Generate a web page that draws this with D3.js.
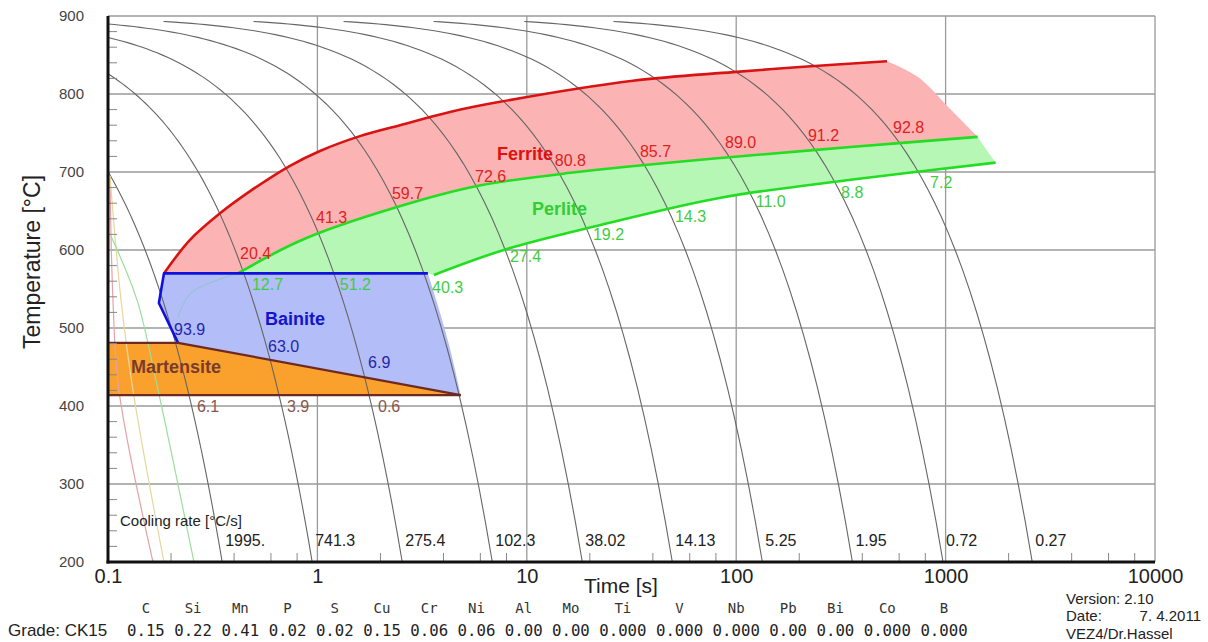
<!DOCTYPE html>
<html>
<head>
<meta charset="utf-8">
<title>CCT diagram CK15</title>
<script src="https://d3js.org/d3.v7.min.js"></script>
<style>
  body { margin: 0; background: #fff; }
  svg text { font-family: "Liberation Sans", Arial, sans-serif; }
  svg text.mono { font-family: "DejaVu Sans Mono", monospace; }
</style>
</head>
<body>
<div id="chart"></div>
<script>
// cooling rates [°C/s] of the gray cooling curves (fastest first)
var rates = [1995, 741.3, 275.4, 102.3, 38.02, 14.13, 5.25, 1.95, 0.72, 0.27];
var rateLabels = ["1995.", "741.3", "275.4", "102.3", "38.02", "14.13", "5.25", "1.95", "0.72", "0.27"];

// very fast coloured cooling curves near the left axis, [time s, temp °C]
var pinkCurve = [[0.1022, 695], [0.1056, 536], [0.1128, 420], [0.164, 200]];
var yellowCurve = [[0.1022, 695], [0.1154, 536], [0.1316, 420], [0.185, 200]];
var greenCurve = [[0.1033, 618], [0.1375, 536], [0.1694, 433], [0.2573, 200]];

// transformation boundaries, [time s, temp °C]
var ferriteStart = [[0.185, 570], [0.2464, 613], [0.3426, 647], [0.4928, 678], [0.74, 708], [1.029, 727],
                    [1.597, 746], [2.48, 760], [4.297, 777], [7.447, 790], [32.16, 817], [96.5, 828],
                    [201.7, 834.6], [525, 842]];
var ferriteEdge = [[525, 842], [735, 822], [1057, 780], [1422, 745]];
var pearliteStart = [[0.417, 570], [0.881, 615], [3.12, 664], [6.03, 683], [16.2, 699], [84.3, 718],
                     [352, 732], [1422, 745]];
var pearliteEnd = [[3.6, 568], [7.76, 600], [22.5, 632], [84.3, 667], [352, 690], [1733, 712]];
var pearliteFaint = [[0.216, 514], [0.249, 545], [0.417, 570]];
var bainiteOutline = [[0.216, 481], [0.175, 532], [0.185, 570], [3.37, 570]];
var bainiteRight = [[3.37, 570], [3.85, 520], [4.33, 470], [4.84, 414]];
var martensiteTop = [[0.1, 481], [0.216, 481], [4.84, 414]];
var martensiteBottom = [[0.1, 414], [4.84, 414]];

// percentages of the phases, [time s, temp °C, text]
var ferriteLabels = [[0.427, 588, "20.4"], [0.985, 635, "41.3"], [2.27, 665, "59.7"], [5.66, 687, "72.6"],
                     [13.6, 708, "80.8"], [34.7, 719, "85.7"], [88.4, 731, "89.0"], [220, 740, "91.2"],
                     [561, 750, "92.8"]];
var pearliteLabels = [[0.487, 549, "12.7"], [1.28, 549, "51.2"], [3.53, 545, "40.3"], [8.32, 585, "27.4"],
                      [20.7, 613, "19.2"], [51.0, 636, "14.3"], [124, 655, "11.0"], [317, 667, "8.8"],
                      [843, 680, "7.2"]];
var bainiteLabels = [[0.2066, 491, "93.9"], [0.581, 469, "63.0"], [1.745, 449, "6.9"]];
var martensiteLabels = [[0.266, 392, "6.1"], [0.716, 392, "3.9"], [1.947, 392, "0.6"]];
var phaseNames = [[7.21, 715, "Ferrite"], [10.6, 645, "Perlite"], [0.562, 504, "Bainite"], [0.1288, 442, "Martensite"]];

// axis ticks
var xTicks = [0.1, 1, 10, 100, 1000, 10000];
var xTickLabels = ["0.1", "1", "10", "100", "1000", "10000"];
var yTicks = [200, 300, 400, 500, 600, 700, 800, 900];

// chemical composition
var elements = ["C", "Si", "Mn", "P", "S", "Cu", "Cr", "Ni", "Al", "Mo", "Ti", "V", "Nb", "Pb", "Bi", "Co", "B"];
var contents = ["0.15", "0.22", "0.41", "0.02", "0.02", "0.15", "0.06", "0.06", "0.00", "0.00",
                "0.000", "0.000", "0.000", "0.00", "0.00", "0.000", "0.000"];

var W = 1208, H = 642;
var svg = d3.select("#chart").append("svg").attr("width", W).attr("height", H);

var x = d3.scaleLog().domain([0.1, 10000]).range([108, 1155]);
var y = d3.scaleLinear().domain([200, 900]).range([562, 16]);

var line = d3.line().x(function(d) { return x(d[0]); }).y(function(d) { return y(d[1]); });
var smooth = d3.line().x(function(d) { return x(d[0]); }).y(function(d) { return y(d[1]); })
  .curve(d3.curveCatmullRom.alpha(0.5));

function poly(parts) {
  return parts.map(function(p, i) {
    var s = (p[1] ? smooth : line)(p[0]);
    return i ? s.replace(/^M/, "L") : s;
  }).join("") + "Z";
}
function rev(a) { return a.slice().reverse(); }

// grid
var grid = svg.append("g").attr("stroke", "#9a9a9a").attr("stroke-width", 1.3);
yTicks.forEach(function(v) {
  grid.append("line").attr("x1", x(0.1)).attr("x2", x(10000)).attr("y1", y(v)).attr("y2", y(v));
});
xTicks.forEach(function(v) {
  grid.append("line").attr("x1", x(v)).attr("x2", x(v)).attr("y1", y(900)).attr("y2", y(200));
});

// phase areas
svg.append("path").attr("fill", "#fbb3b3")
  .attr("d", poly([[ferriteStart, 1], [ferriteEdge, 1], [rev(pearliteStart), 1], [[[0.417, 570], [0.185, 570]], 0]]));
svg.append("path").attr("fill", "#b6f7b6")
  .attr("d", poly([[pearliteStart, 1], [[[1422, 745], [1733, 712]], 0], [rev(pearliteEnd), 1],
                   [[[3.6, 568], [3.37, 570], [0.417, 570]], 0]]));
svg.append("path").attr("fill", "#b3bdf7")
  .attr("d", poly([[[[0.185, 570], [3.37, 570]], 0], [bainiteRight, 1], [[[4.84, 414], [0.216, 481]], 0],
                   [[[0.216, 481], [0.175, 532], [0.185, 570]], 0]]));
svg.append("path").attr("fill", "#f9a12c")
  .attr("d", poly([[martensiteTop, 0], [[[4.84, 414], [0.1, 414]], 0]]));

// cooling curves
var curves = svg.append("g").attr("fill", "none");
rates.forEach(function(r, i) {
  var t0 = Math.max(0.1, 7 / r), t1 = 700 / r, pts = [];
  for (var k = 0; k <= 60; k++) {
    var t = t0 * Math.pow(t1 / t0, k / 60);
    pts.push([t, 900 - r * t]);
  }
  curves.append("path").attr("d", line(pts)).attr("stroke", "#666").attr("stroke-width", 1.1);
  svg.append("text").attr("x", x(t1) + 3).attr("y", 546).attr("font-size", 16).attr("fill", "#222")
    .text(rateLabels[i]);
});
[[pinkCurve, "#e4a2a8"], [yellowCurve, "#e6d79a"], [greenCurve, "#9adf9a"]].forEach(function(c) {
  curves.append("path").attr("d", smooth(c[0])).attr("stroke", c[1]).attr("stroke-width", 1.2);
});

// boundaries
var b = svg.append("g").attr("fill", "none").attr("stroke-linejoin", "round");
b.append("path").attr("d", smooth(pearliteFaint)).attr("stroke", "#8cc7c2").attr("stroke-width", 1);
b.append("path").attr("d", smooth(ferriteStart)).attr("stroke", "#d81313").attr("stroke-width", 2.6);
b.append("path").attr("d", smooth(pearliteStart)).attr("stroke", "#22dd22").attr("stroke-width", 2.6);
b.append("path").attr("d", smooth(pearliteEnd)).attr("stroke", "#22dd22").attr("stroke-width", 2.6);
b.append("path").attr("d", line(bainiteOutline)).attr("stroke", "#1010dd").attr("stroke-width", 2.6);
b.append("path").attr("d", line(martensiteTop)).attr("stroke", "#6e2a22").attr("stroke-width", 2.2);
b.append("path").attr("d", line(martensiteBottom)).attr("stroke", "#6e2a22").attr("stroke-width", 2.2);

// minor ticks
var minor = svg.append("g").attr("stroke", "#888").attr("stroke-width", 1);
[-1, 0, 1, 2, 3].forEach(function(k) {
  [2, 4, 6, 8].forEach(function(m) {
    var v = m * Math.pow(10, k);
    minor.append("line").attr("x1", x(v)).attr("x2", x(v)).attr("y1", y(200)).attr("y2", y(200) - 9);
  });
});
d3.range(220, 900, 20).filter(function(v) { return v % 100; }).forEach(function(v) {
  minor.append("line").attr("x1", x(0.1)).attr("x2", x(0.1) + 9).attr("y1", y(v)).attr("y2", y(v));
});

// axes
var yAxis = svg.append("g").attr("transform", "translate(" + x(0.1) + ",0)")
  .call(d3.axisLeft(y).tickValues(yTicks).tickSize(0).tickPadding(24));
yAxis.select(".domain").remove();
yAxis.selectAll("text").attr("font-size", 15).attr("fill", "#444")
  .style("font-family", "'Liberation Sans', Arial, sans-serif");

var xAxis = svg.append("g").attr("transform", "translate(0," + y(200) + ")")
  .call(d3.axisBottom(x).tickValues(xTicks).tickSize(0).tickPadding(7)
    .tickFormat(function(d, i) { return xTickLabels[i]; }));
xAxis.select(".domain").remove();
xAxis.selectAll("text").attr("font-size", 20).attr("fill", "#222")
  .style("font-family", "'Liberation Sans', Arial, sans-serif");

svg.append("line").attr("x1", x(0.1)).attr("x2", x(0.1)).attr("y1", y(900)).attr("y2", y(200) + 1.5)
  .attr("stroke", "#111").attr("stroke-width", 3);
svg.append("line").attr("x1", x(0.1) - 1.5).attr("x2", x(10000)).attr("y1", y(200)).attr("y2", y(200))
  .attr("stroke", "#111").attr("stroke-width", 3);

svg.append("text").attr("transform", "translate(40,262) rotate(-90)").attr("text-anchor", "middle")
  .attr("font-size", 23).attr("fill", "#222").text("Temperature [°C]");
svg.append("text").attr("x", 584).attr("y", 593).attr("font-size", 21).attr("fill", "#222").text("Time [s]");

// phase labels
function labels(data, color, size, weight) {
  svg.append("g").selectAll("text").data(data).join("text")
    .attr("x", function(d) { return x(d[0]); }).attr("y", function(d) { return y(d[1]); })
    .attr("font-size", size).attr("font-weight", weight).attr("fill", color)
    .text(function(d) { return d[2]; });
}
labels(ferriteLabels, "#dd2222", 16, "normal");
labels(pearliteLabels, "#3fcc3f", 16, "normal");
labels(bainiteLabels, "#2626aa", 16, "normal");
labels(martensiteLabels, "#8a564a", 16, "normal");
var nameColors = ["#dd1111", "#33cc33", "#1414cc", "#7a3b2b"];
phaseNames.forEach(function(d, i) { labels([d], nameColors[i], 18, "bold"); });

svg.append("text").attr("x", 120).attr("y", 526).attr("font-size", 15).attr("fill", "#222")
  .text("Cooling rate [°C/s]");

// composition table
svg.append("text").attr("x", 8).attr("y", 636).attr("font-size", 17).attr("fill", "#222").text("Grade: CK15");
var probe = svg.append("text").attr("class", "mono").attr("font-size", 15.7).text("0000000000");
var cw = probe.node().getComputedTextLength() / 10;
probe.remove();
var pos = 0, x0 = 127;
contents.forEach(function(v, i) {
  var cx = x0 + (pos + v.length / 2) * cw;
  svg.append("text").attr("class", "mono").attr("x", x0 + pos * cw).attr("y", 636)
    .attr("font-size", 15.7).attr("fill", "#222").text(v);
  svg.append("text").attr("class", "mono").attr("x", cx).attr("y", 613).attr("text-anchor", "middle")
    .attr("font-size", 14).attr("fill", "#333").text(elements[i]);
  pos += v.length + 1;
});

svg.append("text").attr("x", 1066).attr("y", 604).attr("font-size", 15).attr("fill", "#222").text("Version: 2.10");
svg.append("text").attr("x", 1066).attr("y", 621).attr("font-size", 15).attr("fill", "#222").text("Date:");
svg.append("text").attr("x", 1201).attr("y", 621).attr("text-anchor", "end").attr("font-size", 15)
  .attr("fill", "#222").text("7. 4.2011");
svg.append("text").attr("x", 1066).attr("y", 639).attr("font-size", 15).attr("fill", "#222").text("VEZ4/Dr.Hassel");
</script>
</body>
</html>
